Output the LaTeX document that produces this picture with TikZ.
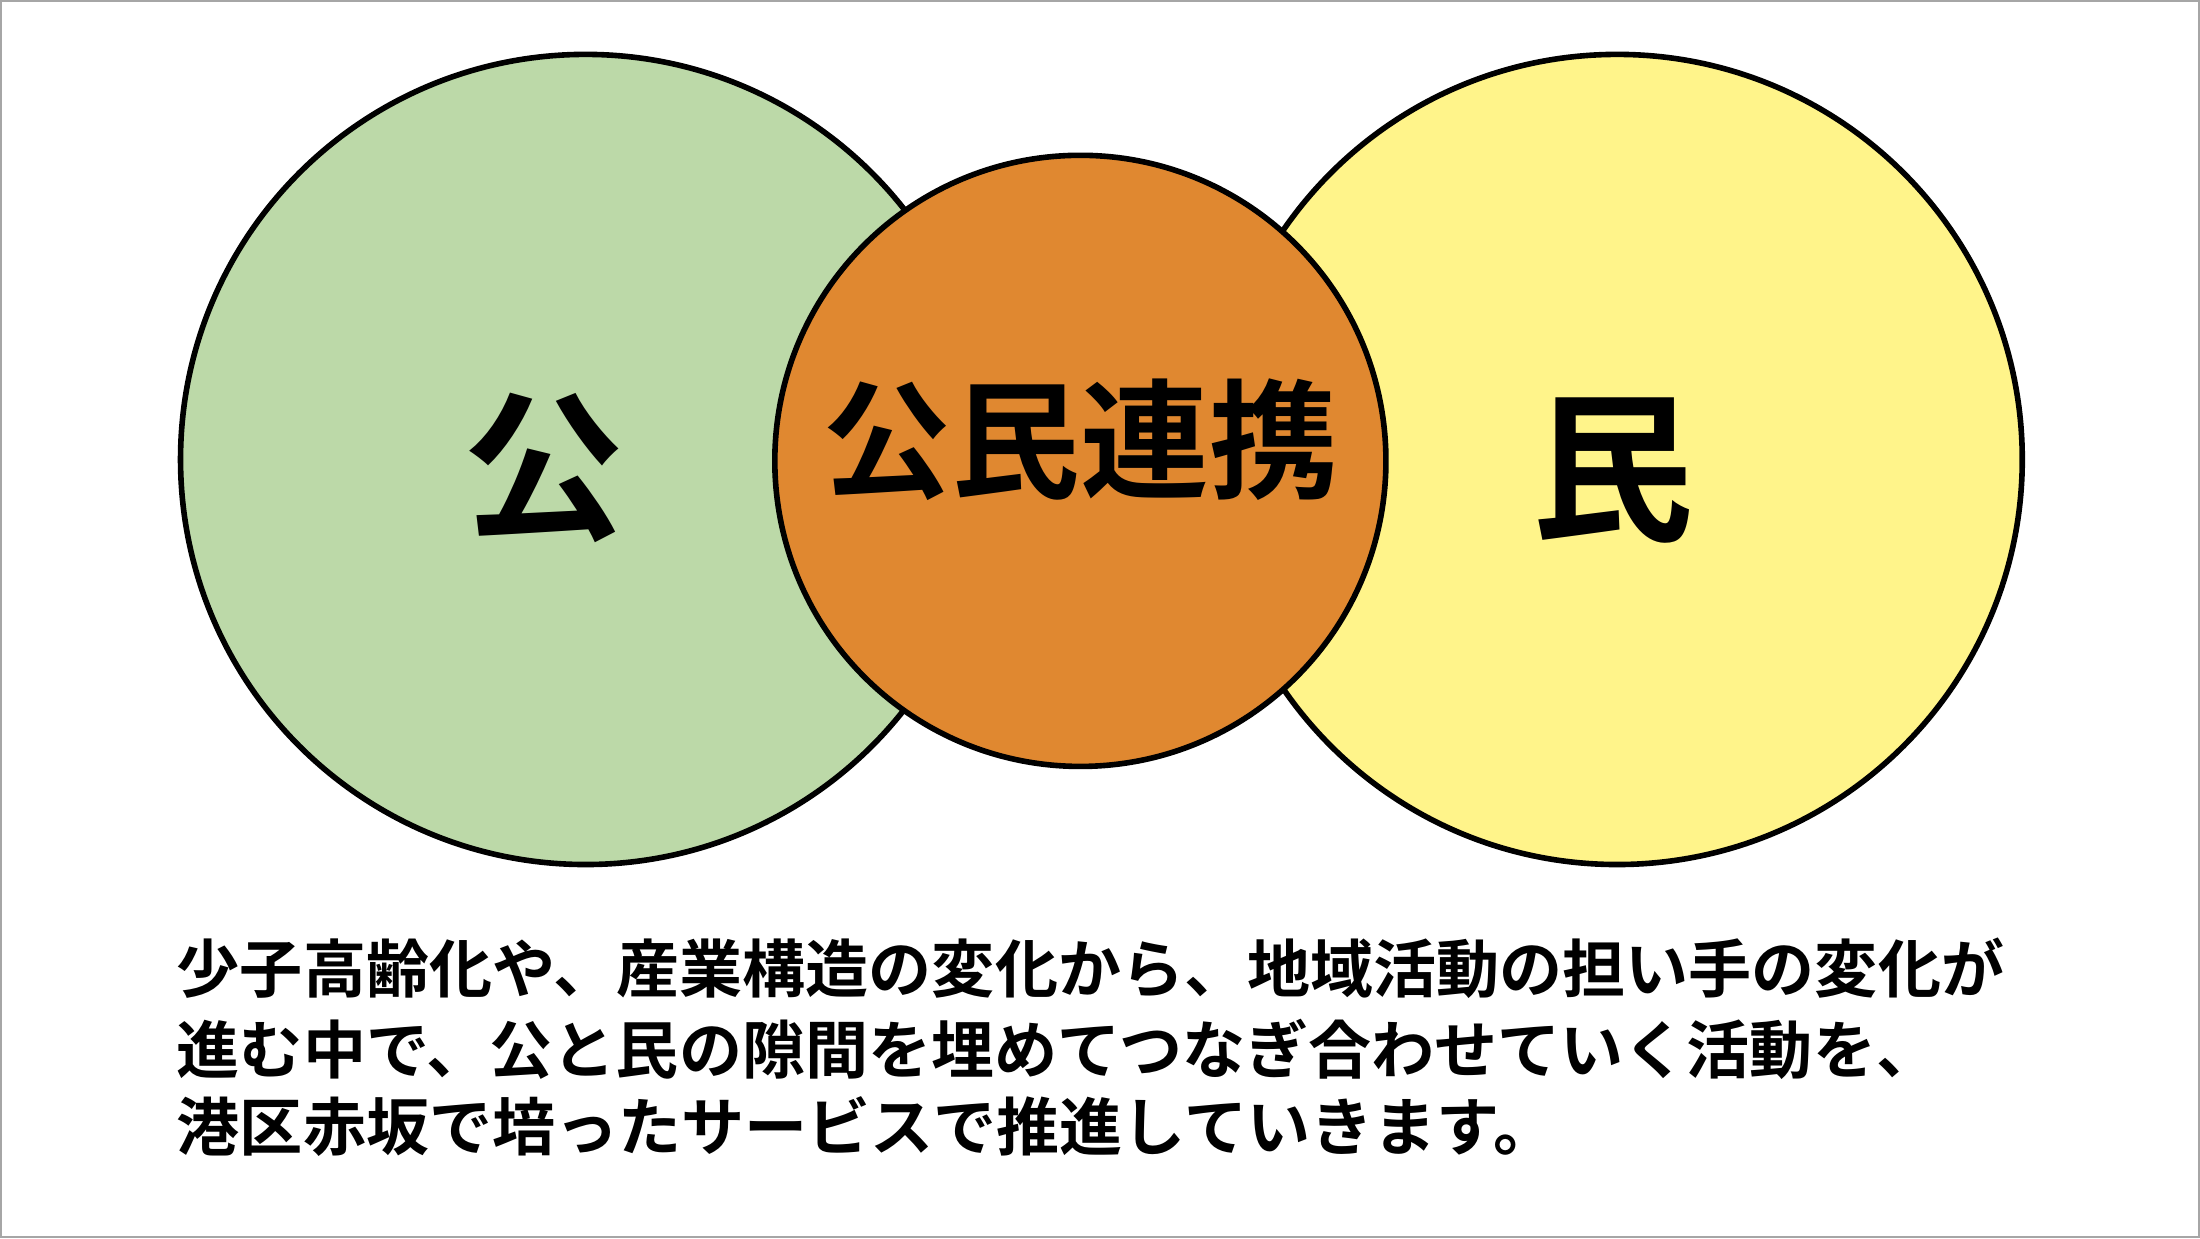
\documentclass[tikz,border=0pt]{standalone}
\usepackage{fontspec}
\newfontfamily\cjk{Noto Sans CJK JP}
\newfontfamily\cjkb{Noto Sans CJK JP Bold}
\definecolor{cgreen}{HTML}{BCD9A8}
\definecolor{corange}{HTML}{E08830}
\definecolor{cyellow}{HTML}{FFF48A}
\begin{document}
\begin{tikzpicture}[x=0.5pt,y=-0.5pt,
  circ/.style={draw=black,line width=2pt},
  body/.style={anchor=west,inner sep=0pt,font=\cjkb\fontsize{22.5}{24}\selectfont}]
\draw[draw=gray!70,line width=0.8pt,fill=white] (0,0) rectangle (1568,882);
\useasboundingbox (0,0) rectangle (1568,882);
\fill[cgreen,circ] (417,327) circle[radius=289];
\fill[cyellow,circ] (1153,327) circle[radius=289];
\fill[corange,circ] (770,328) circle[radius=218];
\node[font=\cjkb\fontsize{58}{60}\selectfont] (ko) at (387,333) {公};
\node[font=\cjkb\fontsize{58}{60}\selectfont] (min) at (1150,335) {民};
\node[font=\cjkb\fontsize{46}{48}\selectfont] (ren) at (770,313) {公民連携};
\node[body] (l1) at (125,690) {少子高齢化や、産業構造の変化から、地域活動の担い手の変化が};
\node[body] (l2) at (125,748) {進む中で、公と民の隙間を埋めてつなぎ合わせていく活動を、};
\node[body] (l3) at (125,803) {港区赤坂で培ったサービスで推進していきます。};
\end{tikzpicture}
\end{document}
